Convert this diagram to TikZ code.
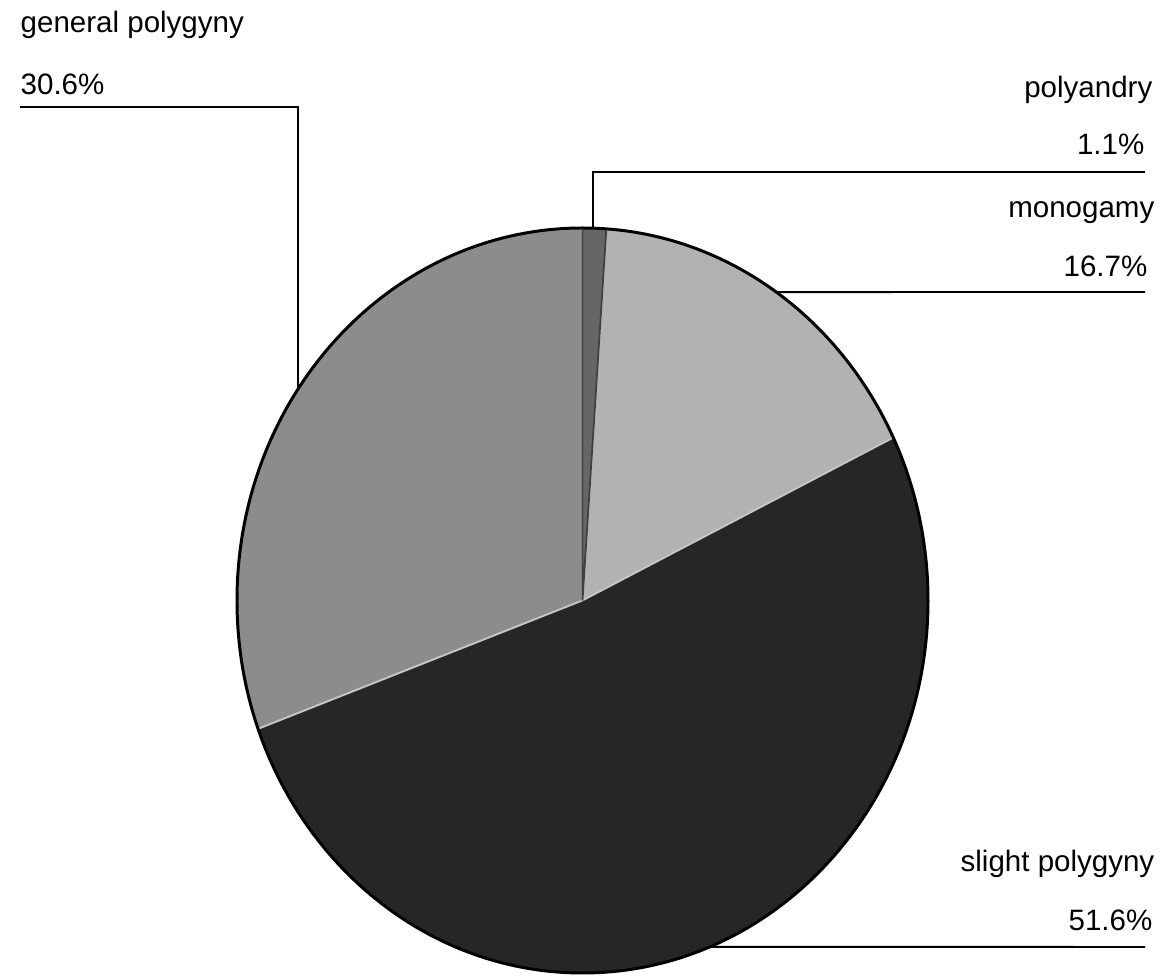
\documentclass[tikz,border=0pt]{standalone}
\usepackage{fontspec}
\setmainfont{Liberation Sans}
\usetikzlibrary{positioning}
\definecolor{gpolyfill}{gray}{0.55}
\definecolor{pandfill}{gray}{0.40}
\definecolor{monofill}{gray}{0.70}
\definecolor{spolyfill}{gray}{0.15}

\begin{document}
\begin{tikzpicture}[x=0.1mm, y=-0.1mm, every node/.style={font=\fontsize{8.4}{10}\selectfont, inner sep=0pt}]
\tikzset{lbl/.style={anchor=base west}, lbr/.style={anchor=base east},
  lead/.style={line width=0.55pt}, slice/.style={draw=gray!45, line width=0.5pt}}
\useasboundingbox (0,0) rectangle (1165,976);
% pie, stretched a little in height as in the print
\begin{scope}[shift={(582.5,600.5)}, xscale=345.5, yscale=-372.5]
\filldraw[slice, fill=gpolyfill] (0,0) -- (90:1) arc[start angle=90, end angle=200.16, radius=1] -- cycle;
\filldraw[slice, fill=monofill] (0,0) -- (25.92:1) arc[start angle=25.92, end angle=86.04, radius=1] -- cycle;
\filldraw[slice, fill=spolyfill] (0,0) -- (-159.84:1) arc[start angle=-159.84, end angle=25.92, radius=1] -- cycle;
\filldraw[slice, draw=black!75, fill=pandfill] (0,0) -- (86.04:1) arc[start angle=86.04, end angle=90, radius=1] -- cycle;
\draw[line width=0.85pt] (0,0) circle[radius=1];
\coordinate (gpEdge) at (145.4:1);
\coordinate (paEdge) at (88.26:1);
\coordinate (moEdge) at (55.9:1);
\coordinate (spEdge) at (-68.4:1);
\end{scope}
% labels
\node[lbl] (gpName) at (20,33) {general polygyny};
\node[lbl] (gpVal) at (20,95) {30.6\%};
\node[lbr] (paName) at (1153,98) {polyandry};
\node[lbr] (paVal) at (1145,155) {1.1\%};
\node[lbr] (moName) at (1155,218) {monogamy};
\node[lbr] (moVal) at (1148,277) {16.7\%};
\node[lbr] (spName) at (1155,872) {slight polygyny};
\node[lbr] (spVal) at (1153,931) {51.6\%};
\coordinate (gpLead) at (20,107);
\coordinate (paLead) at (1145,172);
\coordinate (moLead) at (1145,292);
\coordinate (spLead) at (1145,947);
\draw[lead] (gpLead) -| (gpEdge);
\draw[lead] (paLead) -| (paEdge);
\draw[lead] (moLead) -- (moEdge);
\draw[lead] (spLead) -- (spEdge);
\end{tikzpicture}
\end{document}
